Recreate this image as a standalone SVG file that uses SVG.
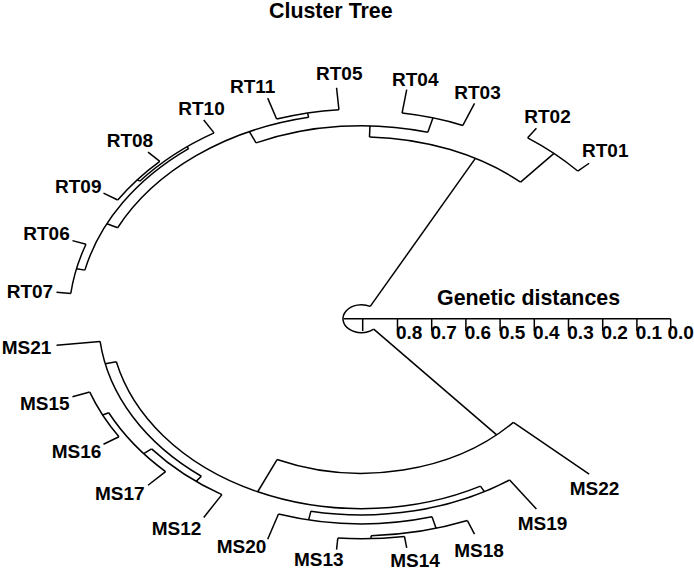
<svg xmlns="http://www.w3.org/2000/svg" width="694" height="570" viewBox="0 0 694 570">
<style>
.t{font-family:"Liberation Sans",Arial,sans-serif;font-weight:bold;fill:#000}
.lb{font-size:19px}
.hd{font-size:21.4px}
.ln{fill:none;stroke:#000;stroke-width:1.5;vector-effect:non-scaling-stroke}
</style>
<rect width="694" height="570" fill="#fff"/>
<text class="t hd" x="269" y="18">Cluster Tree</text>
<g id="axis">
<text class="t hd" x="437" y="305">Genetic distances</text>
<path class="ln" d="M344 318.7H670.7M362.7 318.7V331M397.5 318.7V331M431.7 318.7V331M465.9 318.7V331M500.1 318.7V331M534.3 318.7V331M568.5 318.7V331M602.7 318.7V331M636.9 318.7V331M670.7 318.7V331"/>
<g class="t lb">
<text x="396" y="338.5">0.8</text><text x="430.5" y="338.5">0.7</text><text x="464.7" y="338.5">0.6</text><text x="498.9" y="338.5">0.5</text><text x="533.1" y="338.5">0.4</text><text x="567.3" y="338.5">0.3</text><text x="601.5" y="338.5">0.2</text><text x="635.7" y="338.5">0.1</text><text x="667.5" y="338.5">0.0</text>
</g>
</g>
<g id="connectors" transform="translate(361.5 318.7) scale(1 -0.7547)">
<path class="ln" d="M8.74 16.30A18.5 18.5 0 1 1 12.21 -13.90"/>
<line class="ln" x1="18.5" x2="241" transform="rotate(61.8)"/>
<line class="ln" x1="18.5" x2="204.8" transform="rotate(311.3)"/>
<path class="ln" d="M159.06 181.06A241 241 0 0 1 8.00 240.87"/>
<line class="ln" x1="241" x2="291.65" transform="rotate(48.7)"/>
<path class="ln" d="M216.23 195.69A291.65 291.65 0 0 1 166.15 239.71"/>
<line class="ln" x1="291.65" x2="307" transform="rotate(42.14)"/>
<line class="ln" x1="291.65" x2="307" transform="rotate(55.27)"/>
<line class="ln" x1="241" x2="255.7" transform="rotate(88.1)"/>
<path class="ln" d="M66.30 246.95A255.7 255.7 0 0 1 -105.43 232.94"/>
<line class="ln" x1="255.7" x2="275.4" transform="rotate(74.97)"/>
<path class="ln" d="M101.37 256.07A275.4 275.4 0 0 1 40.57 272.40"/>
<line class="ln" x1="275.4" x2="307" transform="rotate(68.4)"/>
<line class="ln" x1="275.4" x2="307" transform="rotate(81.53)"/>
<line class="ln" x1="255.7" x2="272" transform="rotate(114.35)"/>
<path class="ln" d="M-52.82 266.83A272 272 0 0 1 -243.85 120.52"/>
<line class="ln" x1="272" x2="277.8" transform="rotate(101.2)"/>
<path class="ln" d="M-22.56 276.88A277.8 277.8 0 0 1 -84.87 264.52"/>
<line class="ln" x1="277.8" x2="307" transform="rotate(94.66)"/>
<line class="ln" x1="277.8" x2="307" transform="rotate(107.79)"/>
<line class="ln" x1="272" x2="284" transform="rotate(153.7)"/>
<path class="ln" d="M-172.90 225.33A284 284 0 0 1 -276.62 64.38"/>
<line class="ln" x1="284" x2="287" transform="rotate(127.5)"/>
<path class="ln" d="M-147.46 246.22A287 287 0 0 1 -221.76 182.16"/>
<line class="ln" x1="287" x2="307" transform="rotate(120.92)"/>
<line class="ln" x1="287" x2="290.1" transform="rotate(140.6)"/>
<path class="ln" d="M-201.71 208.50A290.1 290.1 0 0 1 -243.77 157.26"/>
<line class="ln" x1="290.1" x2="307" transform="rotate(134.05)"/>
<line class="ln" x1="290.1" x2="307" transform="rotate(147.18)"/>
<line class="ln" x1="284" x2="292.6" transform="rotate(166.9)"/>
<path class="ln" d="M-275.48 98.58A292.6 292.6 0 0 1 -290.70 33.41"/>
<line class="ln" x1="292.6" x2="307" transform="rotate(160.31)"/>
<line class="ln" x1="292.6" x2="307" transform="rotate(173.44)"/>
<path class="ln" d="M-84.46 -186.57A204.8 204.8 0 0 1 151.84 -137.42"/>
<line class="ln" x1="204.8" x2="307" transform="rotate(317.86)"/>
<line class="ln" x1="204.8" x2="251.7" transform="rotate(245.65)"/>
<path class="ln" d="M-245.16 -57.06A251.7 251.7 0 0 1 118.95 -221.82"/>
<line class="ln" x1="251.7" x2="263.1" transform="rotate(193.1)"/>
<path class="ln" d="M-261.39 -30.05A263.1 263.1 0 0 1 -160.18 -208.74"/>
<line class="ln" x1="263.1" x2="307" transform="rotate(186.56)"/>
<line class="ln" x1="263.1" x2="271.7" transform="rotate(232.5)"/>
<path class="ln" d="M-209.94 -172.45A271.7 271.7 0 0 1 -139.60 -233.09"/>
<line class="ln" x1="271.7" x2="307" transform="rotate(239.08)"/>
<line class="ln" x1="271.7" x2="281.8" transform="rotate(219.4)"/>
<path class="ln" d="M-252.75 -124.64A281.8 281.8 0 0 1 -195.94 -202.53"/>
<line class="ln" x1="281.8" x2="307" transform="rotate(225.95)"/>
<line class="ln" x1="281.8" x2="288.6" transform="rotate(206.25)"/>
<path class="ln" d="M-271.72 -97.23A288.6 288.6 0 0 1 -242.51 -156.45"/>
<line class="ln" x1="288.6" x2="307" transform="rotate(199.69)"/>
<line class="ln" x1="288.6" x2="307" transform="rotate(212.82)"/>
<line class="ln" x1="251.7" x2="260" transform="rotate(298.2)"/>
<path class="ln" d="M-50.60 -255.03A260 260 0 0 1 148.12 -213.69"/>
<line class="ln" x1="260" x2="307" transform="rotate(304.73)"/>
<line class="ln" x1="260" x2="271.7" transform="rotate(258.78)"/>
<path class="ln" d="M-83.00 -258.71A271.7 271.7 0 0 1 70.51 -262.38"/>
<line class="ln" x1="271.7" x2="307" transform="rotate(252.21)"/>
<line class="ln" x1="271.7" x2="287.7" transform="rotate(285.04)"/>
<path class="ln" d="M9.55 -287.53A287.7 287.7 0 0 1 105.90 -267.50"/>
<line class="ln" x1="287.7" x2="307" transform="rotate(291.6)"/>
<line class="ln" x1="287.7" x2="291.65" transform="rotate(271.9)"/>
<path class="ln" d="M-23.68 -290.69A291.65 291.65 0 0 1 42.96 -288.47"/>
<line class="ln" x1="291.65" x2="307" transform="rotate(265.34)"/>
<line class="ln" x1="291.65" x2="307" transform="rotate(278.47)"/>
</g>
<g class="t lb">
<g id="RT07"><text x="6.7" y="298">RT07</text></g>
<g id="RT06"><text x="23.3" y="240">RT06</text></g>
<g id="RT09"><text x="55" y="193.3">RT09</text></g>
<g id="RT08"><text x="106.7" y="146.7">RT08</text></g>
<g id="RT10"><text x="178.3" y="115">RT10</text></g>
<g id="RT11"><text x="230" y="93.3">RT11</text></g>
<g id="RT05"><text x="316" y="80">RT05</text></g>
<g id="RT04"><text x="392" y="86">RT04</text></g>
<g id="RT03"><text x="454.3" y="99">RT03</text></g>
<g id="RT02"><text x="524.3" y="122.7">RT02</text></g>
<g id="RT01"><text x="582" y="157.3">RT01</text></g>
<g id="MS21"><text x="1.7" y="354">MS21</text></g>
<g id="MS15"><text x="20" y="410">MS15</text></g>
<g id="MS16"><text x="51.7" y="458">MS16</text></g>
<g id="MS17"><text x="95" y="500">MS17</text></g>
<g id="MS12"><text x="151.7" y="535">MS12</text></g>
<g id="MS20"><text x="216.7" y="553.3">MS20</text></g>
<g id="MS13"><text x="294" y="566">MS13</text></g>
<g id="MS14"><text x="390.3" y="566.5">MS14</text></g>
<g id="MS18"><text x="454.3" y="556.7">MS18</text></g>
<g id="MS19"><text x="517.7" y="530">MS19</text></g>
<g id="MS22"><text x="569.7" y="495">MS22</text></g>
</g>
</svg>
